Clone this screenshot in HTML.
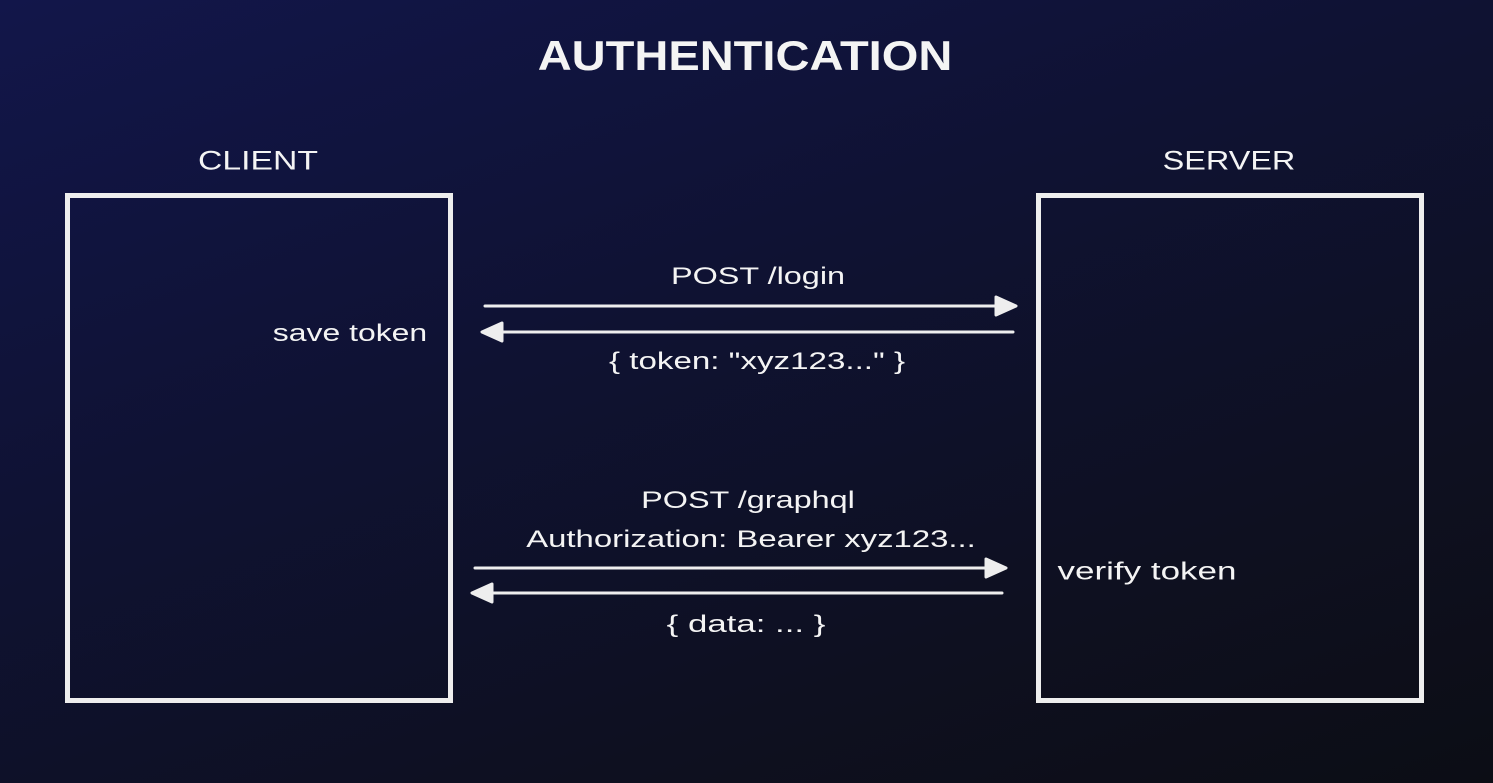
<!DOCTYPE html>
<html><head><meta charset="utf-8"><style>
html,body{margin:0;padding:0}
body{width:1493px;height:783px;overflow:hidden;background:linear-gradient(160deg,#12164a 0%,#0f1233 40%,#0e1020 75%,#0c0d15 100%);font-family:"Liberation Sans",sans-serif;color:#f4f4f4;position:relative}
.t{position:absolute;white-space:nowrap;transform:translate(-50%,-50%) scaleX(1.35)}
.box{position:absolute;border:5px solid #eee;box-sizing:border-box}
</style></head><body>
<div class="t" style="left:745px;top:56px;font-size:42px;font-weight:bold;transform:translate(-50%,-50%) scaleX(1.12)">AUTHENTICATION</div>
<div class="t" style="left:258px;top:161px;font-size:27px;transform:translate(-50%,-50%) scaleX(1.25)">CLIENT</div>
<div class="t" style="left:1229px;top:161px;font-size:27px;transform:translate(-50%,-50%) scaleX(1.2)">SERVER</div>
<div class="box" style="left:65px;top:193px;width:388px;height:510px"></div>
<div class="box" style="left:1036px;top:193px;width:388px;height:510px"></div>
<svg width="1493" height="783" style="position:absolute;left:0;top:0">
<g stroke="#eee" stroke-width="3" fill="#eee" stroke-linecap="round" stroke-linejoin="round">
<line x1="485" y1="306" x2="1005" y2="306"/><polygon points="996,297 1016,306 996,315"/>
<line x1="492" y1="332" x2="1013" y2="332"/><polygon points="502,323 482,332 502,341"/>
<line x1="475" y1="568" x2="995" y2="568"/><polygon points="986,559 1006,568 986,577"/>
<line x1="482" y1="593" x2="1002" y2="593"/><polygon points="492,584 472,593 492,602"/>
</g></svg>
<div class="t" style="left:758px;top:277px;font-size:24px">POST /login</div>
<div class="t" style="left:757px;top:362px;font-size:24px;transform:translate(-50%,-50%) scaleX(1.38)">{ token: "xyz123..." }</div>
<div class="t" style="left:350px;top:334px;font-size:24px;transform:translate(-50%,-50%) scaleX(1.33)">save token</div>
<div class="t" style="left:748px;top:501px;font-size:24px">POST /graphql</div>
<div class="t" style="left:751px;top:540px;font-size:24px;transform:translate(-50%,-50%) scaleX(1.37)">Authorization: Bearer xyz123...</div>
<div class="t" style="left:746px;top:625px;font-size:24px;transform:translate(-50%,-50%) scaleX(1.45)">{ data: ... }</div>
<div class="t" style="left:1147px;top:572px;font-size:25px;transform:translate(-50%,-50%) scaleX(1.4)">verify token</div>
</body></html>
